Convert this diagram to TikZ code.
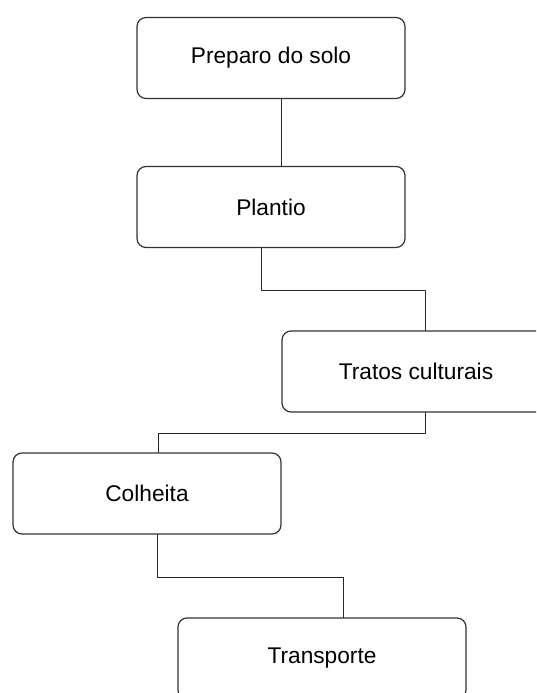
\documentclass[tikz,border=0pt]{standalone}
\usepackage{fontspec}
\setmainfont{Liberation Sans}
\begin{document}
\begin{tikzpicture}[x=1pt, y=-1pt, line join=round, line cap=round,
  etapa/.style={draw=black!80, line width=1.2pt, rounded corners=9pt, minimum width=268pt, minimum height=81pt, inner sep=0pt, font=\fontsize{22.7}{27}\selectfont},
  liga/.style={draw=black!85, line width=1pt}]
\clip (0,0) rectangle (536,693);
%Các ô
\node[etapa] (preparo) at (271,58) {Preparo do solo};
\node[etapa] (plantio) at (271,207) {Plantio};
\node[etapa] (tratos) at (416,371.5) {Tratos culturais};
\node[etapa] (colheita) at (147,493.5) {Colheita};
\node[etapa, minimum width=288pt] (transporte) at (322,658.5) {Transporte};
%Các đường nối
\draw[liga] ([xshift=10pt]preparo.south) -- ([xshift=10pt]plantio.north);
\draw[liga] ([xshift=-10pt]plantio.south) -- ++(0,42) -| ([xshift=9pt]tratos.north);
\draw[liga] ([xshift=9pt]tratos.south) -- ++(0,21) -| ([xshift=11pt]colheita.north);
\draw[liga] ([xshift=10pt]colheita.south) -- ++(0,43) -| ([xshift=21pt]transporte.north);
\end{tikzpicture}
\end{document}
